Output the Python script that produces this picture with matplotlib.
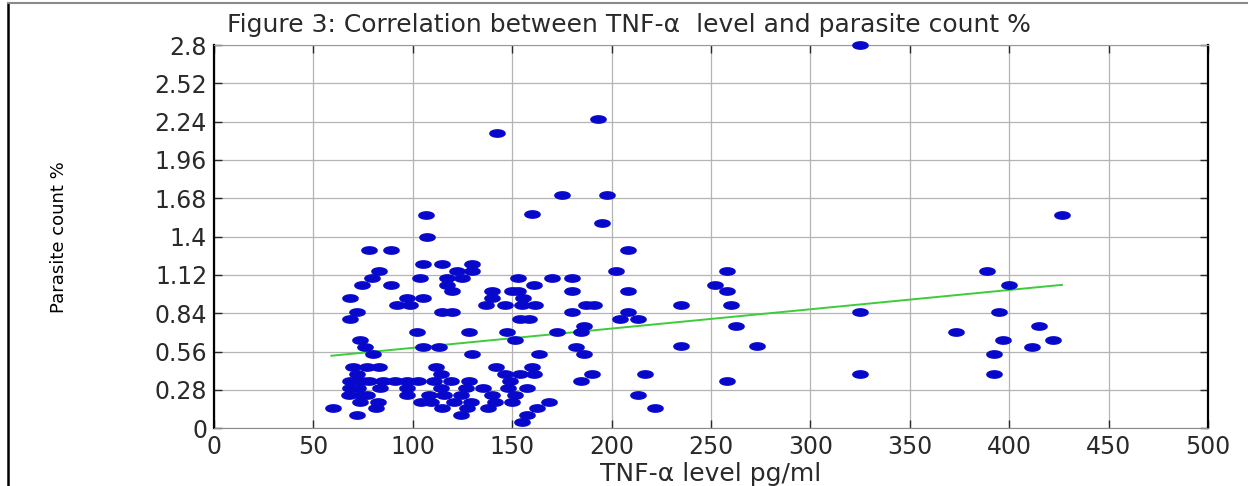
import matplotlib
matplotlib.use("Agg")
import matplotlib.pyplot as plt
import numpy as np
from matplotlib.lines import Line2D

# TNF-alpha level (pg/ml) and parasite count (%)
tnf = [78, 89, 83, 79.5, 74.5, 89, 68.5, 97, 105, 92, 98.5, 103.5, 105, 107, 72, 68.5,
       102, 73.5, 76, 80, 105, 70, 77, 83, 72, 68.5, 74.5, 78, 85, 91, 97, 102.5,
       68.5, 72.5, 83.5, 97, 68, 74, 77, 97, 108, 73.5, 82.5, 104, 109, 81.5, 60, 72,
       195, 208, 202, 114.5, 129.5, 122, 129.5, 117, 124.5, 153, 170, 180, 161, 117,
       119.5, 140, 150, 153, 180, 208, 140, 155.5, 137, 146.5, 155, 161.5, 187, 191,
       114.5, 119.5, 180, 208, 154, 158.5, 204, 213, 186, 128, 147.5, 172.5, 184.5,
       151.5, 113, 182, 129.5, 163.5, 186, 111.5, 142, 160, 114, 146.5, 154, 161, 190,
       217, 110.5, 119, 128, 149, 184.5, 114, 126.5, 135.5, 148, 157.5, 115.5, 124,
       140, 151.5, 213, 120.5, 129, 141.5, 150, 168.5, 114.5, 127, 138, 162.5, 222,
       124, 157.5, 155, 193, 142.5, 175, 197.5, 106.5, 160, 258, 252, 258, 235, 260,
       262.5, 235, 273, 258, 325, 325, 389, 400, 395, 373, 415, 397, 422, 411.5, 392.5,
       392.5, 426.5, 325]
parasite = [1.30, 1.30, 1.15, 1.10, 1.05, 1.05, 0.95, 0.95, 0.95, 0.90, 0.90, 1.10, 1.20,
            1.40, 0.85, 0.80, 0.70, 0.645, 0.595, 0.545, 0.595, 0.45, 0.45, 0.45, 0.40,
            0.345, 0.345, 0.345, 0.345, 0.345, 0.345, 0.345, 0.295, 0.295, 0.295, 0.295,
            0.245, 0.245, 0.245, 0.245, 0.245, 0.19, 0.19, 0.19, 0.19, 0.145, 0.145, 0.095,
            1.50, 1.30, 1.15, 1.20, 1.20, 1.15, 1.15, 1.10, 1.10, 1.10, 1.10, 1.10, 1.05,
            1.05, 1.00, 1.00, 1.00, 1.00, 1.00, 1.00, 0.95, 0.95, 0.90, 0.90, 0.90, 0.90,
            0.90, 0.90, 0.85, 0.85, 0.85, 0.85, 0.80, 0.80, 0.80, 0.80, 0.75, 0.70, 0.70,
            0.70, 0.70, 0.645, 0.595, 0.595, 0.545, 0.545, 0.545, 0.45, 0.45, 0.45, 0.40,
            0.40, 0.40, 0.40, 0.40, 0.40, 0.345, 0.345, 0.345, 0.345, 0.345, 0.295, 0.295,
            0.295, 0.295, 0.295, 0.245, 0.245, 0.245, 0.245, 0.245, 0.19, 0.19, 0.19, 0.19,
            0.19, 0.145, 0.145, 0.145, 0.145, 0.145, 0.095, 0.095, 0.045, 2.26, 2.16, 1.705,
            1.705, 1.555, 1.565, 1.15, 1.05, 1.00, 0.90, 0.90, 0.75, 0.60, 0.60, 0.345,
            0.85, 0.40, 1.15, 1.05, 0.85, 0.70, 0.75, 0.645, 0.645, 0.595, 0.545, 0.40,
            1.56, 2.80]

# regression line end points
fit_x = [59, 426.5]
fit_y = [0.53, 1.048]

x_ticks = [0, 50, 100, 150, 200, 250, 300, 350, 400, 450, 500]
y_ticks = [0, 0.28, 0.56, 0.84, 1.12, 1.4, 1.68, 1.96, 2.24, 2.52, 2.8]
y_labels = ['0', '0.28', '0.56', '0.84', '1.12', '1.4', '1.68', '1.96', '2.24', '2.52', '2.8']

fig = plt.figure(figsize=(12.51, 4.86), dpi=100)
ax = fig.add_axes([0.1711, 0.1187, 0.7946, 0.7887])

# wide flat dot, like the stretched original
t = np.linspace(0, 2 * np.pi, 40)
ellipse = np.c_[np.cos(t), 0.48 * np.sin(t)]

ax.plot(tnf, parasite, linestyle='none', marker=ellipse, markersize=11,
        color='#0808cc', clip_on=False, zorder=3)
ax.plot(fit_x, fit_y, color='#3ccc3c', linewidth=1.4, zorder=2)

ax.set_xlim(0, 500)
ax.set_ylim(0, 2.8)
ax.set_xticks(x_ticks)
ax.set_yticks(y_ticks)
ax.set_yticklabels(y_labels)
ax.grid(True, color='#b4b4b4', linewidth=0.9)
ax.set_axisbelow(True)

ax.tick_params(direction='in', top=True, right=True, length=6, width=1,
               labelsize=17, colors='#2a2a2a', pad=5)

ax.spines['left'].set_color('black')
ax.spines['left'].set_linewidth(1.6)
ax.spines['right'].set_color('black')
ax.spines['right'].set_linewidth(1.6)
ax.spines['bottom'].set_color('#8c8c8c')
ax.spines['top'].set_color('#9a9a9a')

ax.set_xlabel('TNF-α level pg/ml', fontsize=18, color='#2a2a2a', labelpad=2)
ax.set_ylabel('Parasite count %', fontsize=13, color='black', labelpad=62)

fig.text(0.503, 0.948, 'Figure 3: Correlation between TNF-α  level and parasite count %',
         ha='center', va='center', fontsize=18, color='#2a2a2a')

# outer frame of the original picture
fig.add_artist(Line2D([0.0064, 0.0064], [0, 0.994], transform=fig.transFigure,
                      color='black', linewidth=1.8))
fig.add_artist(Line2D([0.0064, 0.997], [0.994, 0.994], transform=fig.transFigure,
                      color='#8a8a8a', linewidth=1.5))

fig.savefig('out.png', dpi=100)
